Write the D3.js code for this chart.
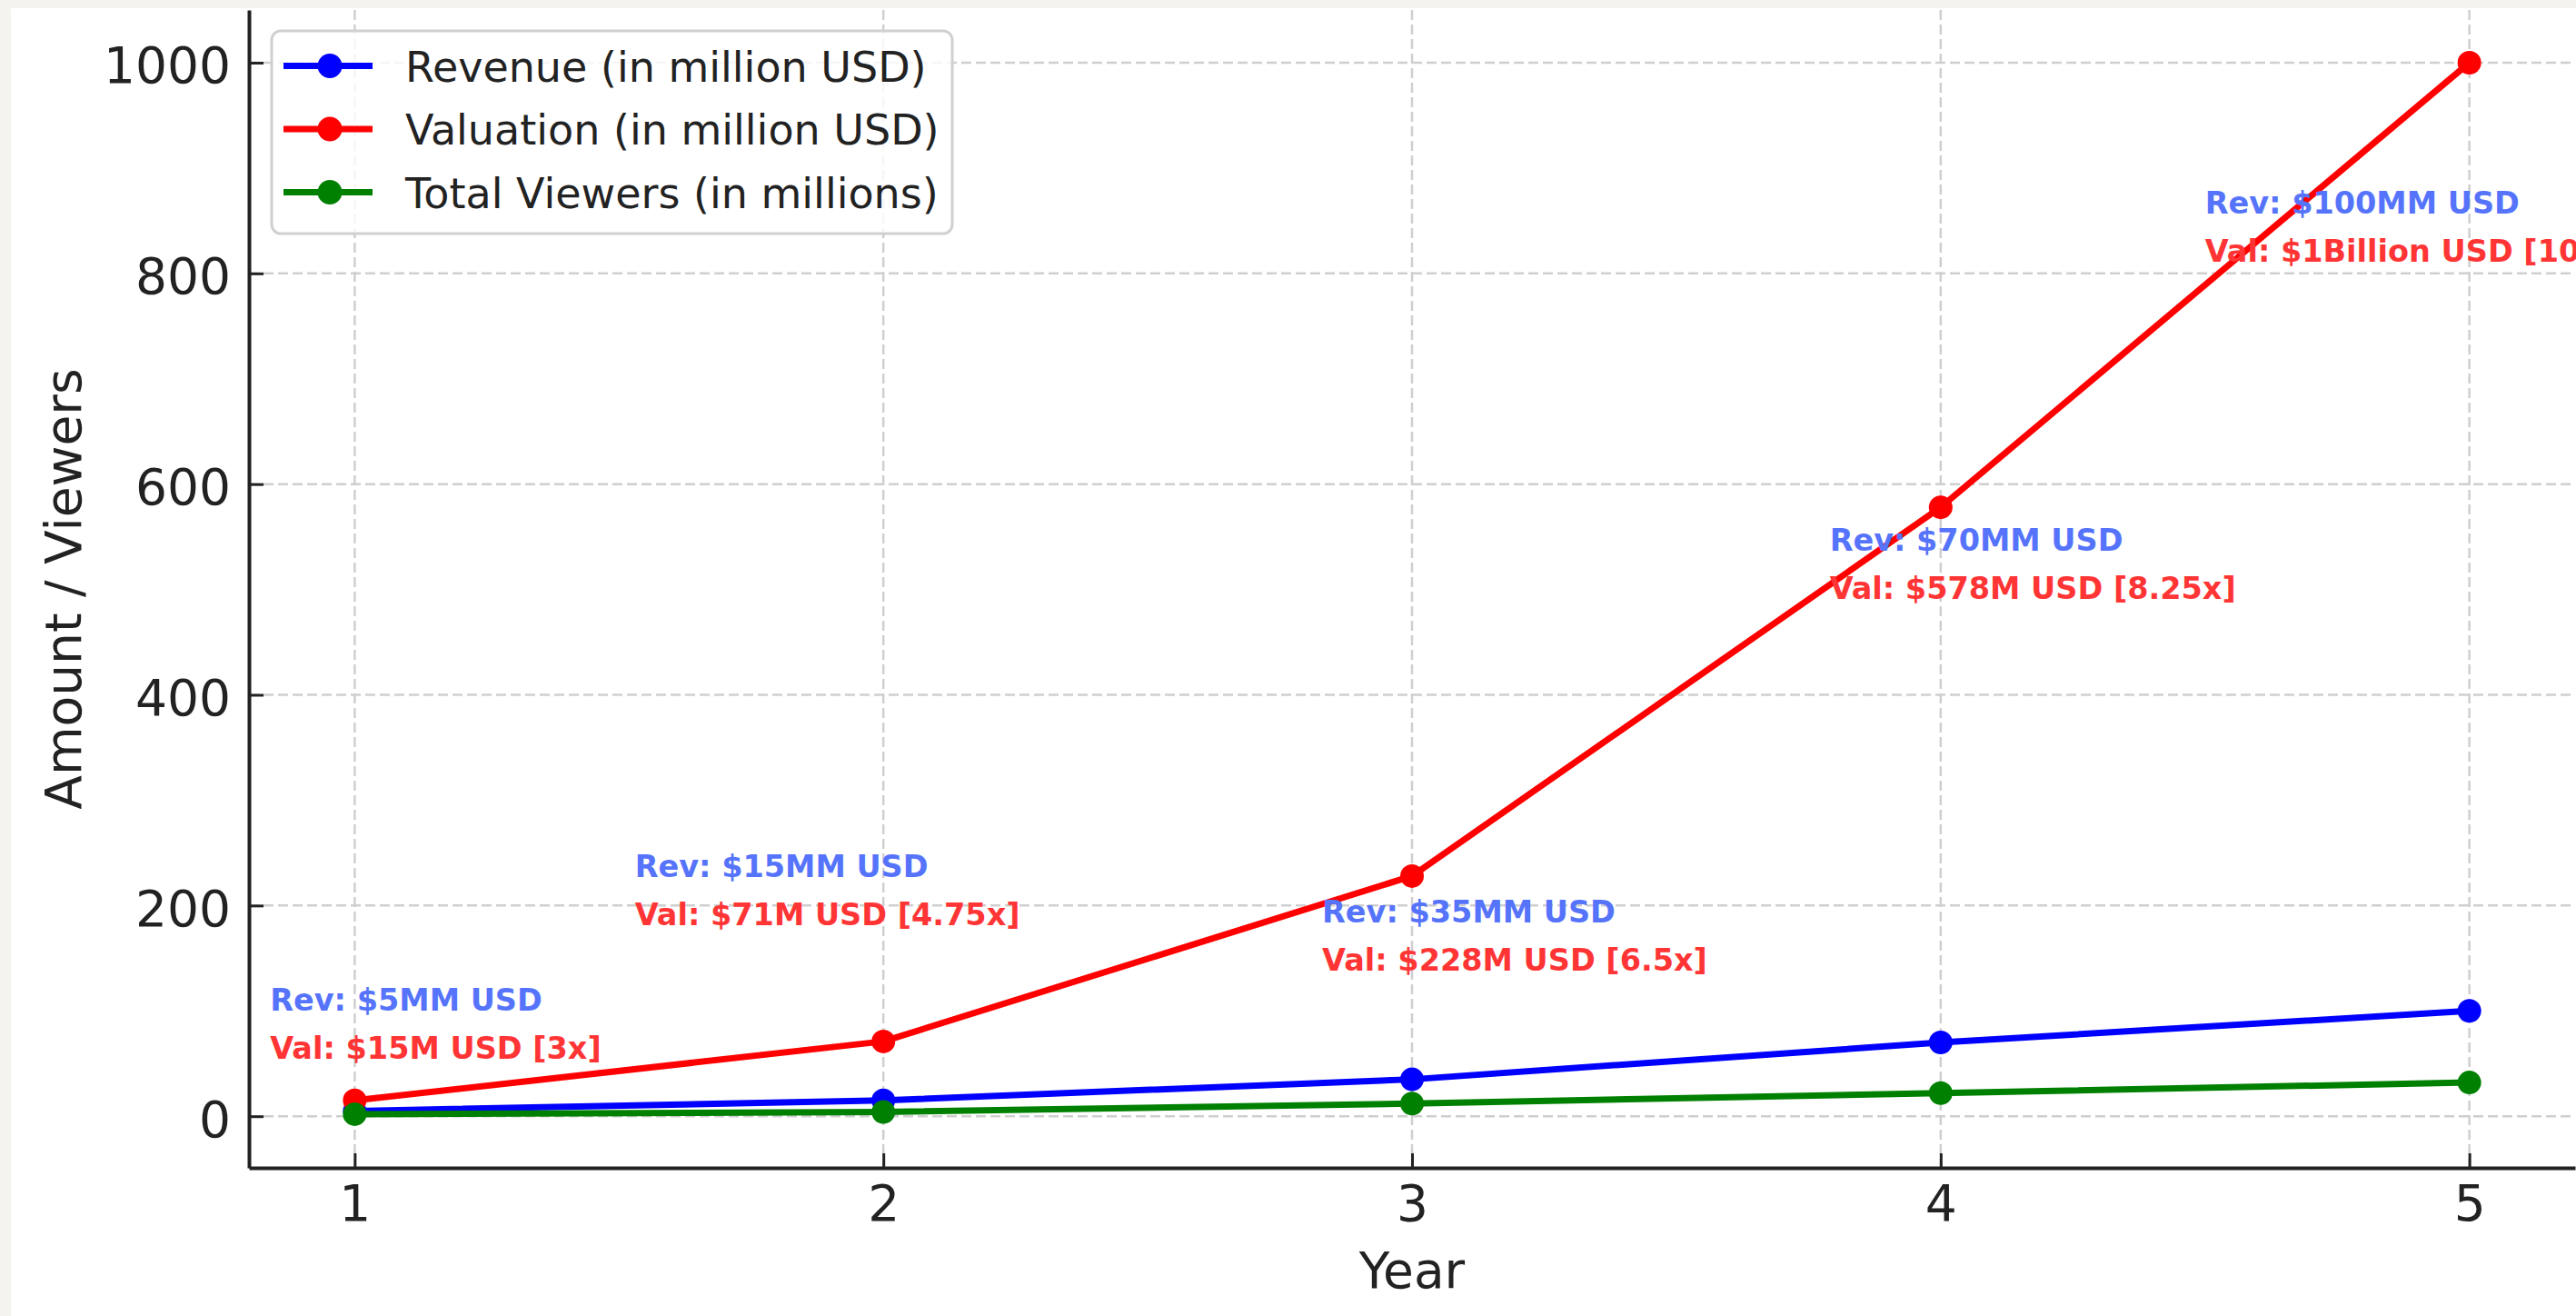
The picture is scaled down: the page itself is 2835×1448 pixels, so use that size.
<!DOCTYPE html>
<html>
<head>
<meta charset="utf-8">
<script src="https://cdn.jsdelivr.net/npm/d3@7"></script>
<style>
  html, body { margin: 0; padding: 0; background: #f4f3ef; }
  svg { display: block; }
  .tick-label { font-family: "DejaVu Sans", sans-serif; fill: #222; }
  .anno { font-family: "DejaVu Sans", sans-serif; font-weight: 700; }
</style>
</head>
<body>
<svg id="chart"></svg>
<script>
// data
const years = [1, 2, 3, 4, 5];
const revenue = [5, 15, 35, 70, 100];
const valuation = [15, 71, 228, 578, 1000];
const viewers = [2, 4, 12, 22, 32];
const seriesNames = [
  "Revenue (in million USD)",
  "Valuation (in million USD)",
  "Total Viewers (in millions)"
];
const xTicks = [1, 2, 3, 4, 5];
const yTicks = [0, 200, 400, 600, 800, 1000];

// annotation texts, and where they sit (data units)
const revLabels = ["Rev: $5MM USD", "Rev: $15MM USD", "Rev: $35MM USD", "Rev: $70MM USD", "Rev: $100MM USD"];
const valLabels = ["Val: $15M USD [3x]", "Val: $71M USD [4.75x]", "Val: $228M USD [6.5x]", "Val: $578M USD [8.25x]", "Val: $1Billion USD [10x]"];
const labelX = [0.84, 1.53, 2.83, 3.79, 4.5];
const labelY = [100, 227, 184, 537, 857];

const config = {
  width: 2835,
  height: 1448,
  left: 274,
  right: 2834,
  top: 11,
  bottom: 1285,
  colors: ["#0000ff", "#ff0000", "#008000"],
  revColor: "#5674fb",
  valColor: "#ff3535"
};

const svg = d3.select("#chart")
  .attr("width", config.width)
  .attr("height", config.height);

// white figure panel, the grey strip on top/left is part of the screenshot
svg.append("rect")
  .attr("x", 12).attr("y", 9)
  .attr("width", config.width - 12).attr("height", config.height - 9)
  .attr("fill", "#ffffff");

const xScale = d3.scaleLinear().domain([0.8, 5.2]).range([config.left, config.right]);
const yScale = d3.scaleLinear().domain([-49, 1050]).range([config.bottom, config.top]);

// grid
const grid = svg.append("g").attr("class", "grid");
grid.selectAll(".vgrid")
  .data(xTicks)
  .join("line")
  .attr("class", "vgrid")
  .attr("x1", d => xScale(d)).attr("x2", d => xScale(d))
  .attr("y1", config.top).attr("y2", config.bottom)
  .attr("stroke", "#cfcfcf").attr("stroke-width", 2.5)
  .attr("stroke-dasharray", "11,5");
grid.selectAll(".hgrid")
  .data(yTicks)
  .join("line")
  .attr("class", "hgrid")
  .attr("x1", config.left).attr("x2", config.right)
  .attr("y1", d => yScale(d)).attr("y2", d => yScale(d))
  .attr("stroke", "#cfcfcf").attr("stroke-width", 2.5)
  .attr("stroke-dasharray", "11,5");

// axes (ticks pointing inwards)
const xAxis = d3.axisBottom(xScale).tickValues(xTicks).tickSize(-16).tickSizeOuter(0).tickPadding(0).tickFormat(d3.format("d"));
const yAxis = d3.axisLeft(yScale).tickValues(yTicks).tickSize(-16).tickSizeOuter(0).tickPadding(0).tickFormat(d3.format("d"));

const xAxisG = svg.append("g")
  .attr("transform", `translate(0,${config.bottom})`)
  .call(xAxis);
const yAxisG = svg.append("g")
  .attr("transform", `translate(${config.left},0)`)
  .call(yAxis);

[xAxisG, yAxisG].forEach(g => {
  g.select(".domain").attr("stroke", "#222").attr("stroke-width", 4);
  g.selectAll(".tick line").attr("stroke", "#222").attr("stroke-width", 3);
  g.selectAll(".tick text")
    .attr("class", "tick-label")
    .attr("font-size", 55)
    .attr("fill", "#222");
});
xAxisG.selectAll(".tick text").attr("dy", null).attr("y", 58);
yAxisG.selectAll(".tick text").attr("dy", null).attr("x", -20).attr("y", 22);

// axis titles
svg.append("text")
  .attr("class", "tick-label")
  .attr("x", (config.left + config.right) / 2)
  .attr("y", 1417)
  .attr("text-anchor", "middle")
  .attr("font-size", 55)
  .text("Year");
svg.append("text")
  .attr("class", "tick-label")
  .attr("transform", `translate(89,${(config.top + config.bottom) / 2}) rotate(-90)`)
  .attr("text-anchor", "middle")
  .attr("font-size", 55)
  .text("Amount / Viewers");

// series
const series = [revenue, valuation, viewers].map((vals, i) => ({
  name: seriesNames[i],
  color: config.colors[i],
  points: years.map((y, j) => ({ x: y, y: vals[j] }))
}));

const line = d3.line().x(d => xScale(d.x)).y(d => yScale(d.y));

const seriesG = svg.selectAll(".series")
  .data(series)
  .join("g")
  .attr("class", "series");
seriesG.append("path")
  .attr("d", d => line(d.points))
  .attr("fill", "none")
  .attr("stroke", d => d.color)
  .attr("stroke-width", 7)
  .attr("stroke-linejoin", "round");
seriesG.selectAll("circle")
  .data(d => d.points.map(p => ({ ...p, color: d.color })))
  .join("circle")
  .attr("cx", d => xScale(d.x))
  .attr("cy", d => yScale(d.y))
  .attr("r", 13)
  .attr("fill", d => d.color);

// annotations
const annoG = svg.append("g");
years.forEach((y, i) => {
  const ax = xScale(labelX[i]);
  const ay = yScale(labelY[i]);
  annoG.append("text")
    .attr("class", "anno")
    .attr("x", ax).attr("y", ay)
    .attr("font-size", 33.5)
    .attr("fill", config.revColor)
    .text(revLabels[i]);
  annoG.append("text")
    .attr("class", "anno")
    .attr("x", ax).attr("y", ay + 53)
    .attr("font-size", 33.5)
    .attr("fill", config.valColor)
    .text(valLabels[i]);
});

// legend
const legend = svg.append("g").attr("transform", "translate(299,34)");
legend.append("rect")
  .attr("width", 749).attr("height", 223)
  .attr("rx", 10).attr("ry", 10)
  .attr("fill", "#ffffff").attr("fill-opacity", 0.8)
  .attr("stroke", "#d0d0d0").attr("stroke-width", 3);
const legendRows = legend.selectAll(".legend-row")
  .data(series)
  .join("g")
  .attr("class", "legend-row")
  .attr("transform", (d, i) => `translate(0,${38.5 + i * 69.5})`);
legendRows.append("line")
  .attr("x1", 13).attr("x2", 111)
  .attr("stroke", d => d.color).attr("stroke-width", 7);
legendRows.append("circle")
  .attr("cx", 64).attr("r", 13.5)
  .attr("fill", d => d.color);
legendRows.append("text")
  .attr("class", "tick-label")
  .attr("x", 147).attr("y", 17)
  .attr("font-size", 46)
  .attr("fill", "#333")
  .text(d => d.name);
</script>
</body>
</html>
